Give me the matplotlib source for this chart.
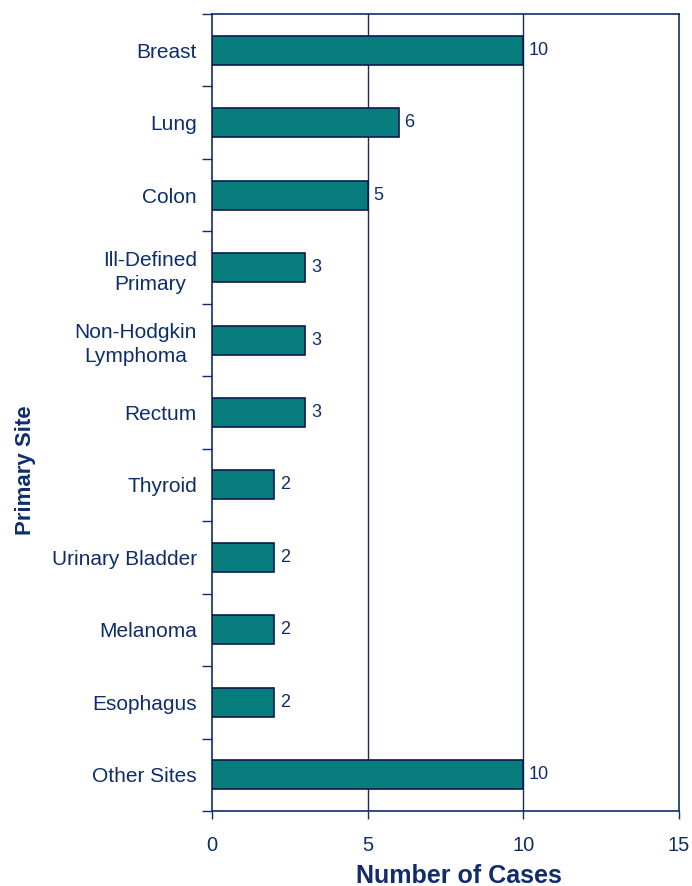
import matplotlib
matplotlib.use("Agg")
import matplotlib.pyplot as plt

# data, top to bottom
sites = ["Breast", "Lung", "Colon", "Ill-Defined\nPrimary", "Non-Hodgkin\nLymphoma",
         "Rectum", "Thyroid", "Urinary Bladder", "Melanoma", "Esophagus", "Other Sites"]
cases = [10, 6, 5, 3, 3, 3, 2, 2, 2, 2, 10]
x_ticks = [0, 5, 10, 15]

NAVY = "#0f2d6b"
TEAL = "#077d7d"

plt.rcParams["font.family"] = ["Liberation Sans", "DejaVu Sans"]

fig = plt.figure(figsize=(6.92, 8.86), dpi=100)
ax = fig.add_axes([0.3064, 0.0847, 0.6748, 0.8995])

ypos = list(range(len(sites)))
ax.barh(ypos, cases, height=0.4, color=TEAL, edgecolor="#0a1a50", linewidth=1.2, zorder=3)

for y, v in zip(ypos, cases):
    ax.annotate(str(v), (v, y), xytext=(4, 0), textcoords="offset points",
                va="center", ha="left", fontsize=13, color=NAVY)

ax.set_xlim(0, 15)
ax.set_ylim(len(sites) - 0.5, -0.5)
ax.set_xticks(x_ticks)
ax.set_xticklabels([str(t) for t in x_ticks])
ax.set_yticks(ypos)
ax.set_yticklabels(sites, multialignment="center", linespacing=1.35)
ax.set_yticks([i - 0.5 for i in range(len(sites) + 1)], minor=True)

ax.tick_params(axis="y", which="major", length=0, pad=11, labelsize=15, labelcolor=NAVY)
ax.tick_params(axis="y", which="minor", length=7, width=1, color=NAVY, direction="out")
ax.tick_params(axis="x", length=6, width=1, color=NAVY, pad=12, labelsize=14.5, labelcolor=NAVY)

for x in [5, 10]:
    ax.axvline(x, color="#1a2a5a", linewidth=1, zorder=1)

for s in ax.spines.values():
    s.set_color(NAVY)
    s.set_linewidth(1.2)

ax.set_xlabel("Number of Cases", fontsize=18, fontweight="bold", color=NAVY)
ax.xaxis.set_label_coords(0.529, -0.066)
ax.set_ylabel("Primary Site", fontsize=16, fontweight="bold", color=NAVY)
ax.yaxis.set_label_coords(-0.376, 0.428)

fig.savefig("out.png", dpi=100)
